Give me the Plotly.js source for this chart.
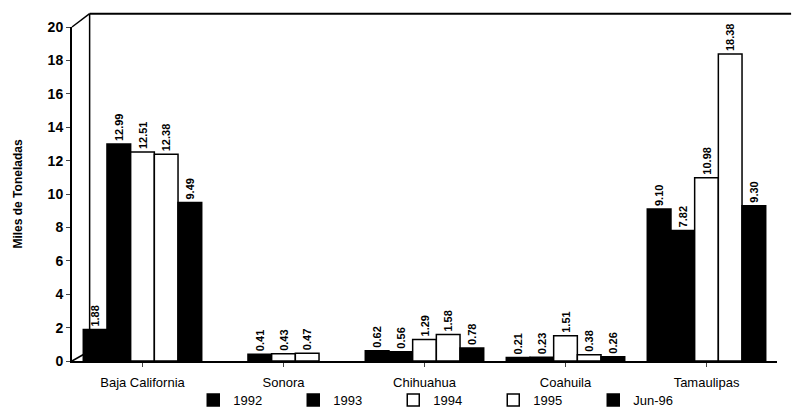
<!DOCTYPE html>
<html><head><meta charset="utf-8">
<script src="https://cdn.plot.ly/plotly-3.0.1.min.js"></script>
<style>body{margin:0;background:#fff}#c{width:799px;height:415px}</style>
</head><body><div id="c"></div>
<script>
const categories = ["Baja California", "Sonora", "Chihuahua", "Coahuila", "Tamaulipas"];
const seriesNames = ["1992", "1993", "1994", "1995", "Jun-96"];
const v1992 = [1.88, null, 0.62, 0.21, 9.10];
const v1993 = [12.99, 0.41, 0.56, 0.23, 7.82];
const v1994 = [12.51, 0.43, 1.29, 1.51, 10.98];
const v1995 = [12.38, 0.47, 1.58, 0.38, 18.38];
const vJun96 = [9.49, null, 0.78, 0.26, 9.30];
const yTicks = [0, 2, 4, 6, 8, 10, 12, 14, 16, 18, 20];

const values = [v1992, v1993, v1994, v1995, vJun96];
const fills = ["#000", "#000", "#fff", "#fff", "#000"];
const traces = values.map((vals, i) => ({
  type: "bar", name: seriesNames[i], x: categories, y: vals,
  marker: {color: fills[i], line: {color: "#000", width: 1.5}},
  text: vals.map(v => v == null ? "" : v.toFixed(2)),
  textposition: "outside", textangle: -90, cliponaxis: false, constraintext: "none",
  textfont: {family: "Liberation Sans, Arial, sans-serif", size: 11, color: "#000", weight: "bold"}
}));

const layout = {
  width: 799, height: 415,
  margin: {l: 72, r: 22, t: 27, b: 54},
  paper_bgcolor: "#fff", plot_bgcolor: "#fff",
  barmode: "group", bargap: 0.16, bargroupgap: 0,
  font: {family: "Liberation Sans, Arial, sans-serif", color: "#000", size: 13},
  xaxis: {showline: true, linecolor: "#000", linewidth: 2, ticks: "outside", ticklen: 4,
          tickfont: {size: 13}, showgrid: false, zeroline: false, ticklabelstandoff: 4},
  yaxis: {range: [0, 20], tickvals: yTicks, showline: true, linecolor: "#000", linewidth: 2,
          ticks: "outside", ticklen: 4, showgrid: false, zeroline: false,
          tickfont: {size: 14, weight: "bold"},
          title: {text: "Miles de Toneladas", font: {size: 12, weight: "bold"}, standoff: 22}},
  showlegend: true,
  legend: {orientation: "h", x: 0.172, xanchor: "left", xref: "paper",
           yref: "container", y: -0.02, yanchor: "bottom", bgcolor: "rgba(0,0,0,0)",
           entrywidth: 55, font: {size: 13}, traceorder: "normal", itemwidth: 30},
  shapes: [
    {type: "line", xref: "paper", yref: "paper", x0: 0.025, x1: 1.02, y0: 1.04, y1: 1.04, line: {color: "#000", width: 2}},
    {type: "line", xref: "paper", yref: "paper", x0: 0.0, x1: 0.025, y0: 1.0, y1: 1.04, line: {color: "#000", width: 1.5}},
    {type: "line", xref: "paper", yref: "paper", x0: 0.025, x1: 0.025, y0: 0.03, y1: 1.04, line: {color: "#000", width: 1.5}},
    {type: "line", xref: "paper", yref: "paper", x0: 0.0, x1: 0.025, y0: 0.0, y1: 0.03, line: {color: "#000", width: 1.5}}
  ]
};
Plotly.newPlot("c", traces, layout, {displayModeBar: false, staticPlot: true});
</script></body></html>
